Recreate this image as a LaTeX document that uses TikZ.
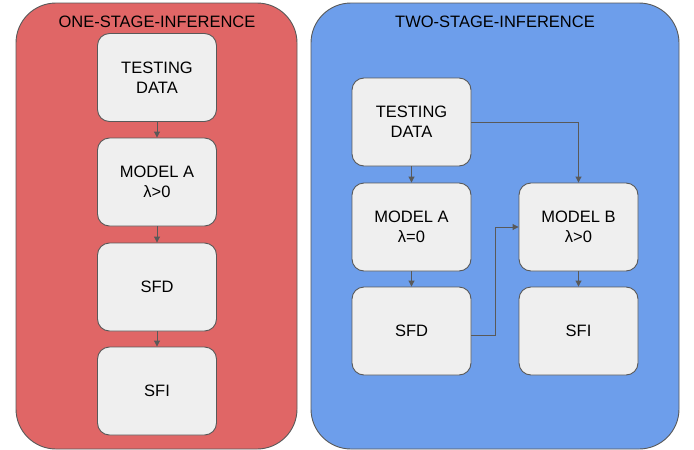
\documentclass[tikz,border=0pt]{standalone}
\usepackage{fontspec}
\setmainfont{Liberation Sans}
\usetikzlibrary{arrows.meta}
\definecolor{redbg}{HTML}{E06666}
\definecolor{bluebg}{HTML}{6D9EEB}
\definecolor{boxfill}{HTML}{EFEFEF}
\definecolor{edgegray}{HTML}{595959}
\tikzset{
  container/.style={draw=edgegray, line width=0.9pt, rounded corners=40pt},
  stepbox/.style={draw=edgegray, line width=0.9pt, fill=boxfill, rounded corners=12pt,
    minimum width=119pt, minimum height=88pt, align=center, inner sep=0pt,
    font=\fontsize{16.5}{20}\selectfont},
  title/.style={font=\fontsize{16.5}{20}\selectfont, inner sep=0pt},
  conn/.style={draw=edgegray, line width=0.9pt, -{Triangle[length=6pt,width=6pt]}}
}
\begin{document}
\begin{tikzpicture}[x=1pt,y=-1pt]
\useasboundingbox (0,0) rectangle (694,450);
% containers
\draw[container, fill=redbg] (16,3) rectangle (297,449);
\draw[container, fill=bluebg] (311,3) rectangle (679,449);
\node[title] (t1) at (157,22) {ONE-STAGE-INFERENCE};
\node[title] (t2) at (495,22) {TWO-STAGE-INFERENCE};
% left column
\node[stepbox] (ltd) at (157,77.5) {TESTING\\DATA};
\node[stepbox] (lma) at (157,182) {MODEL A\\λ>0};
\node[stepbox] (lsfd) at (157,287) {SFD};
\node[stepbox] (lsfi) at (157,391) {SFI};
\draw[conn] (ltd) -- (lma);
\draw[conn] (lma) -- (lsfd);
\draw[conn] (lsfd) -- (lsfi);
% right
\node[stepbox] (rtd) at (411.5,122) {TESTING\\DATA};
\node[stepbox] (rma) at (411.5,227) {MODEL A\\λ=0};
\node[stepbox] (rsfd) at (411.5,331) {SFD};
\node[stepbox] (rmb) at (578.5,227) {MODEL B\\λ>0};
\node[stepbox] (rsfi) at (578.5,331) {SFI};
\draw[conn] (rtd) -- (rma);
\draw[conn] (rma) -- (rsfd);
\draw[conn] (rmb) -- (rsfi);
\draw[conn] (rtd.east) -| (rmb.north);
\draw[conn] ([yshift=-4pt]rsfd.east) -- ++(24,0) |- (rmb.west);
\end{tikzpicture}
\end{document}
